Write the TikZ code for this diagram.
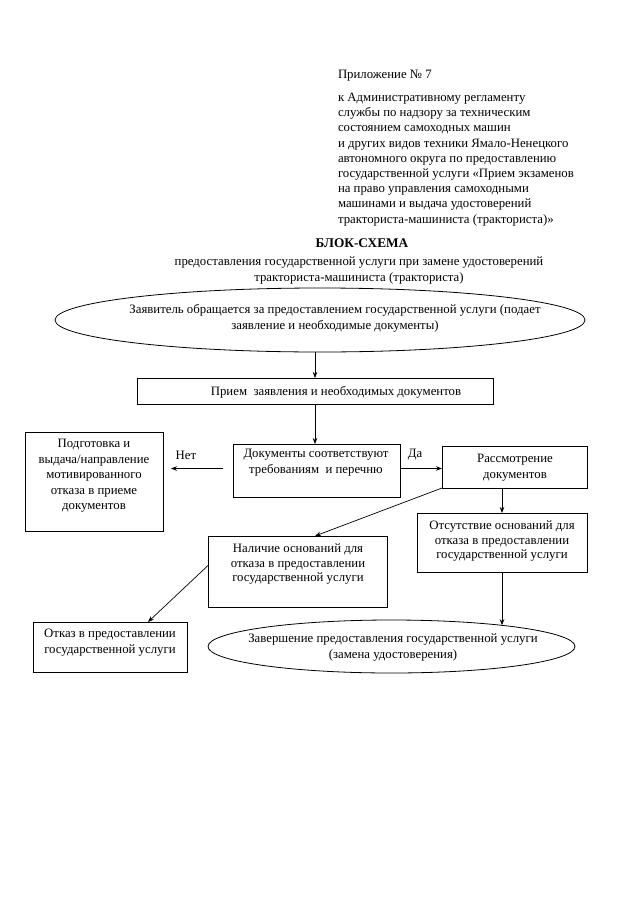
\documentclass[tikz,border=0pt]{standalone}
\usepackage{fontspec}
\setmainfont{Liberation Serif}
\usetikzlibrary{arrows.meta,shapes.geometric}
\begin{document}
\begin{tikzpicture}[x=1pt,y=-1pt,
  every node/.style={font=\fontsize{12.8}{15.2}\selectfont, inner sep=0pt, outer sep=0pt},
  box/.style={draw, line width=0.8pt, rectangle},
  oval/.style={draw, line width=0.8pt, ellipse},
  txt/.style={align=center},
  arr/.style={draw, line width=0.7pt, -{Stealth[length=6pt,width=4.5pt]}}
]
\useasboundingbox (0,0) rectangle (640,905);

% header
\node[anchor=base west] (app) at (338,78) {Приложение № 7};
\node[anchor=north west, align=left] (hdr) at (338,93) {к Административному регламенту\\
службы по надзору за техническим\\
состоянием самоходных машин\\
и других видов техники Ямало-Ненецкого\\
автономного округа по предоставлению\\
государственной услуги «Прием экзаменов\\
на право управления самоходными\\
машинами и выдача удостоверений\\
тракториста-машиниста (тракториста)»};

\node[font=\fontsize{13.3}{15.5}\selectfont\bfseries] (ttl) at (362,243) {БЛОК-СХЕМА};
\node[txt, font=\fontsize{12.8}{16}\selectfont] (sub) at (359,270) {предоставления государственной услуги при замене удостоверений\\тракториста-машиниста (тракториста)};

% shapes
\node[oval, minimum width=530, minimum height=64] (e1) at (320,320) {};
\node[txt, font=\fontsize{12.8}{16}\selectfont] (e1t) at (335,318) {Заявитель обращается за предоставлением государственной услуги (подает\\заявление и необходимые документы)};

\node[box, minimum width=356, minimum height=26] (b2) at (315,391) {};
\node (b2t) at (336,392) {Прием\ \ заявления и необходимых документов};

\node[box, minimum width=167, minimum height=53] (b3) at (316.5,470.5) {};
\node[txt, font=\fontsize{12.8}{16}\selectfont] (b3t) at (316,463) {Документы соответствуют\\требованиям\ \ и перечню};

\node[box, minimum width=138, minimum height=99] (b1) at (94,481.5) {};
\node[txt, font=\fontsize{12.8}{15.5}\selectfont] (b1t) at (94,476) {Подготовка и\\выдача/направление\\мотивированного\\отказа в приеме\\документов};

\node[box, minimum width=145, minimum height=42] (b4) at (514.5,467) {};
\node[txt, font=\fontsize{12.8}{16}\selectfont] (b4t) at (515,468) {Рассмотрение\\документов};

\node[box, minimum width=170, minimum height=59] (b5) at (502,542.5) {};
\node[txt, font=\fontsize{12.8}{14.5}\selectfont] (b5t) at (502,541) {Отсутствие оснований для\\отказа в предоставлении\\государственной услуги};

\node[box, minimum width=179, minimum height=71] (b6) at (297.5,571.5) {};
\node[txt, font=\fontsize{12.8}{14.5}\selectfont] (b6t) at (298,564) {Наличие оснований для\\отказа в предоставлении\\государственной услуги};

\node[box, minimum width=154, minimum height=50] (b7) at (110,647) {};
\node[txt, font=\fontsize{12.8}{15.5}\selectfont] (b7t) at (110,642.5) {Отказ в предоставлении\\государственной услуги};

\node[oval, minimum width=367, minimum height=53] (e2) at (391.5,646.5) {};
\node[txt, font=\fontsize{12.8}{15.5}\selectfont] (e2t) at (393,647.5) {Завершение предоставления государственной услуги\\(замена удостоверения)};

% connectors
\draw[arr] (e1.south -| b2.north) -- (b2.north);
\draw[arr] (b2.south) -- (b2.south |- b3.north);
\draw[arr, shorten <=10pt, shorten >=8pt] ([yshift=2pt]b3.west) -- ([yshift=2pt]b3.west -| b1.east);
\node (net) at (186,455) {Нет};
\draw[arr] ([yshift=2pt]b3.east) -- ([yshift=2pt]b3.east -| b4.west);
\node (da) at (415,455) {Да};
\draw[arr] (b5.north |- b4.south) -- (b5.north);
\draw[arr] (b4.south west) -- ([xshift=17.5pt]b6.north);
\draw[arr] ([yshift=6pt]b6.west) -- ([xshift=38pt]b7.north);
\draw[arr] (b5.south) -- (b5.south |- e2.11);
\end{tikzpicture}
\end{document}
